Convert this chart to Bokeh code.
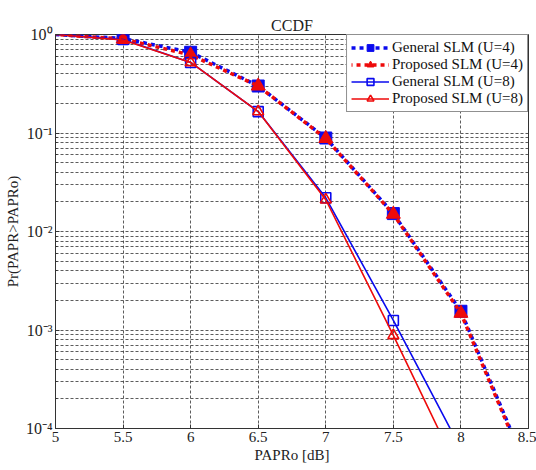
from bokeh.plotting import figure
from bokeh.models import FixedTicker, CustomJSTickFormatter, Range1d
from bokeh.embed import file_html
from bokeh.resources import INLINE

# ---- data ----
papr_u4 = [5.0, 5.5, 6.0, 6.5, 7.0, 7.5, 8.0, 8.5]
general_u4 = [1.0, 0.91, 0.66, 0.30, 0.089, 0.0152, 0.00155, 3.6e-5]
proposed_u4 = [1.0, 0.90, 0.62, 0.30, 0.088, 0.0150, 0.00148, 3.4e-5]

papr_u8 = [5.0, 5.5, 6.0, 6.5, 7.0, 7.5, 8.0]
general_u8 = [1.0, 0.89, 0.52, 0.165, 0.022, 0.00125, 6.2e-5]
proposed_u8 = [1.0, 0.88, 0.52, 0.165, 0.021, 0.00088, 3.3e-5]

x_ticks = [5.0, 5.5, 6.0, 6.5, 7.0, 7.5, 8.0, 8.5]
x_tick_labels = ["5", "5.5", "6", "6.5", "7", "7.5", "8", "8.5"]
y_ticks = [1e-4, 1e-3, 1e-2, 1e-1, 1.0]
y_minor = [m * 10.0 ** e for e in range(-4, 0) for m in range(2, 10)]

FONT = "Liberation Serif"

p = figure(width=536, height=470, y_axis_type="log",
           x_range=Range1d(5, 8.5), y_range=Range1d(1e-4, 1.0),
           output_backend="svg", toolbar_location=None,
           title="CCDF", min_border_left=55, min_border_right=8,
           min_border_top=34, min_border_bottom=42)

p.title.align = "center"
p.title.vertical_align = "middle"
p.title.text_font = FONT
p.title.text_font_style = "normal"
p.title.text_font_size = "16px"
p.title.text_color = "#222222"
p.title.standoff = 0

p.outline_line_color = "#333333"
p.outline_line_width = 1
p.background_fill_color = "white"
p.border_fill_color = "white"

# axes
p.xaxis.ticker = FixedTicker(ticks=x_ticks)
p.xaxis.major_label_overrides = {t: l for t, l in zip(x_ticks, x_tick_labels)}
p.yaxis.ticker = FixedTicker(ticks=y_ticks, minor_ticks=y_minor)
p.yaxis.formatter = CustomJSTickFormatter(code="""
const sup = {'0':'\u2070','1':'\u00b9','2':'\u00b2','3':'\u00b3','4':'\u2074','-':'\u207b'};
const e = String(Math.round(Math.log10(tick)));
let s = '';
for (const c of e) { s += sup[c]; }
return '10' + s;
""")
for ax in (p.xaxis[0], p.yaxis[0]):
    ax.axis_line_color = "#333333"
    ax.major_tick_out = 0
    ax.major_tick_in = 4
    ax.minor_tick_out = 0
    ax.minor_tick_in = 2
    ax.major_tick_line_color = "#333333"
    ax.minor_tick_line_color = "#333333"
    ax.major_label_text_font = FONT
    ax.major_label_text_font_size = "15px"
    ax.major_label_text_color = "#222222"
    ax.axis_label_text_font = FONT
    ax.axis_label_text_font_size = "15px"
    ax.axis_label_text_font_style = "normal"
    ax.axis_label_text_color = "#222222"
    ax.major_label_standoff = 3
    ax.axis_label_standoff = 2
p.yaxis.major_label_text_font_size = "16px"
p.xaxis.axis_label = "PAPRo [dB]"
p.yaxis.axis_label = "Pr(PAPR>PAPRo)"

# grids
p.xgrid.grid_line_color = "#333333"
p.xgrid.grid_line_dash = "3 2"
p.xgrid.grid_line_alpha = 0.8
p.ygrid.grid_line_color = "#333333"
p.ygrid.grid_line_dash = "3 2"
p.ygrid.grid_line_alpha = 0.8
p.ygrid.minor_grid_line_color = "#333333"
p.ygrid.minor_grid_line_dash = "3 2"
p.ygrid.minor_grid_line_alpha = 0.8

BLUE = "#0a0aee"
RED = "#ee0a0a"

# U=4 general
p.line(papr_u4, general_u4, line_color=BLUE, line_width=3.5, line_dash="4 4",
       legend_label="General SLM (U=4)")
p.scatter(papr_u4[1:-1], general_u4[1:-1], marker="square", size=12,
          fill_color=BLUE, line_color=BLUE, legend_label="General SLM (U=4)")
# U=4 proposed
p.line(papr_u4, proposed_u4, line_color=RED, line_width=3.5, line_dash="4 4",
       line_dash_offset=3, legend_label="Proposed SLM (U=4)")
p.scatter(papr_u4[1:-1], proposed_u4[1:-1], marker="triangle", size=14,
          fill_color=RED, line_color=RED, legend_label="Proposed SLM (U=4)")
# U=8 general
p.line(papr_u8, general_u8, line_color=BLUE, line_width=1.6,
       legend_label="General SLM (U=8)")
p.scatter(papr_u8[1:-1], general_u8[1:-1], marker="square", size=10,
          fill_color=None, line_color=BLUE, line_width=1.6,
          legend_label="General SLM (U=8)")
# U=8 proposed
p.line(papr_u8, proposed_u8, line_color=RED, line_width=1.6,
       legend_label="Proposed SLM (U=8)")
p.scatter(papr_u8[1:-1], proposed_u8[1:-1], marker="triangle", size=11,
          fill_color=None, line_color=RED, line_width=1.6,
          legend_label="Proposed SLM (U=8)")

lg = p.legend[0]
lg.location = "top_right"
lg.margin = 0
lg.padding = 4
lg.spacing = 0
lg.glyph_width = 38
lg.glyph_height = 17
lg.label_height = 17
lg.label_standoff = 3
lg.label_text_font = FONT
lg.label_text_font_size = "15px"
lg.label_text_color = "#111111"
lg.border_line_color = "#222222"
lg.border_line_width = 1
lg.background_fill_alpha = 1.0

open("out.html", "w").write(file_html(p, INLINE))
